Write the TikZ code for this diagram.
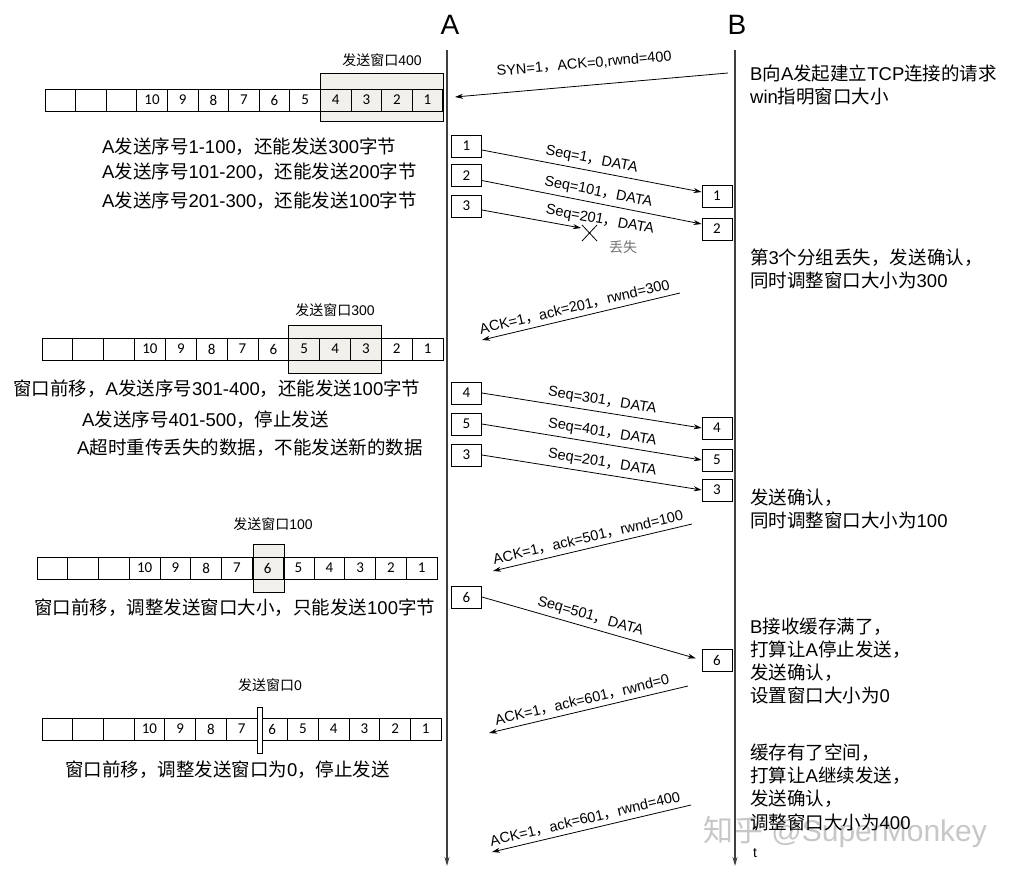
\documentclass[tikz,border=0pt]{standalone}
\usepackage{fontspec}
\setmainfont{Liberation Sans}
\newfontfamily\cjkfont{Noto Sans CJK SC}
\newfontfamily\cellfont{Carlito}
\usetikzlibrary{arrows.meta}
\definecolor{winfill}{RGB}{242,240,235}

% han characters and full width signs switch to the CJK font
\XeTeXinterchartokenstate=1
\newXeTeXintercharclass\hanclass
\newcount\hcnt
\hcnt="4E00 \loop\XeTeXcharclass\hcnt=\hanclass \ifnum\hcnt<"9FFF \advance\hcnt by 1 \repeat
\hcnt="3000 \loop\XeTeXcharclass\hcnt=\hanclass \ifnum\hcnt<"303F \advance\hcnt by 1 \repeat
\hcnt="FF00 \loop\XeTeXcharclass\hcnt=\hanclass \ifnum\hcnt<"FFEF \advance\hcnt by 1 \repeat
\XeTeXinterchartoks 0 \hanclass = {\begingroup\cjkfont}
\XeTeXinterchartoks 4095 \hanclass = {\begingroup\cjkfont}
\XeTeXinterchartoks \hanclass 0 = {\endgroup}
\XeTeXinterchartoks \hanclass 4095 = {\endgroup}

\tikzset{
  cell/.style={draw, line width=0.8pt, minimum height=22pt, inner sep=0pt, font=\cellfont\fontsize{15}{15}\selectfont},
  win/.style={draw, line width=0.8pt, fill=winfill},
  winlabel/.style={inner sep=0pt, font=\fontsize{14}{14}\selectfont},
  pkt/.style={draw, line width=0.8pt, minimum width=30pt, minimum height=22pt, inner sep=0pt, font=\cellfont\fontsize{15}{15}\selectfont},
  msg/.style={line width=0.8pt, -{Stealth[length=8pt,width=5pt]}},
  back/.style={line width=0.8pt, {Stealth[length=8pt,width=5pt]}-},
  life/.style={line width=1.3pt, black!75, -{Stealth[length=9pt,width=5pt]}},
  note/.style={inner sep=0pt, anchor=west, align=left, font=\fontsize{18.5}{23.3}\selectfont},
  tag/.style={inner sep=0pt, sloped, above=4pt, font=\fontsize{14.5}{14.5}\selectfont},
}

\begin{document}
\begin{tikzpicture}[x=1pt,y=-1pt]
  \useasboundingbox (0,0) rectangle (1014,880);

  % watermark
  \node[text=black!22, font=\fontsize{30}{30}\selectfont] (wm) at (845,832) {知乎 @SuperMonkey};

  % the two hosts and their time lines
  \node[font=\fontsize{28}{28}\selectfont] (A) at (450,25) {A};
  \node[font=\fontsize{28}{28}\selectfont] (B) at (737,25) {B};
  \coordinate (Atop) at (447,50); \coordinate (Abot) at (447,866);
  \coordinate (Btop) at (735,50); \coordinate (Bbot) at (735,866);
  \draw[life] (Atop) -- (Abot);
  \draw[life] (Btop) -- (Bbot);
  \node[font=\fontsize{14}{14}\selectfont] (t) at (755,853) {t};

  % send windows (drawn under the cells)
  \draw[win] (320,73) rectangle (443,121);
  \draw[win] (288,325) rectangle (381,373);
  \draw[win] (253,544) rectangle (284,592);

  \foreach \rx/\ry/\rw [count=\r] in {45/89/30.6, 42/338/30.85, 37/557/30.77, 42/718/30.7}{% one row of
    \foreach \k in {0,...,12}{% byte cells per state
      \pgfmathtruncatemacro\lbl{13-\k}
      \node[cell, minimum width=\rw pt] (c\r-\k) at ({\rx+(\k+0.5)*\rw},{\ry+11}) {\ifnum\k>2 \lbl\fi};
    }
  }
  \draw[line width=0.8pt, fill=white] (257,707) rectangle (262,753);% zero window

  \node[winlabel] (wl1) at (382,60) {发送窗口400};
  \node[winlabel] (wl2) at (335,310) {发送窗口300};
  \node[winlabel] (wl3) at (273,524) {发送窗口100};
  \node[winlabel] (wl4) at (270,685) {发送窗口0};

  % notes on the A side
  \node[note] (n1) at (102,147) {A发送序号1-100，还能发送300字节};
  \node[note] (n2) at (102,172) {A发送序号101-200，还能发送200字节};
  \node[note] (n3) at (102,201) {A发送序号201-300，还能发送100字节};
  \node[note] (n4) at (13,389) {窗口前移，A发送序号301-400，还能发送100字节};
  \node[note] (n5) at (82,420) {A发送序号401-500，停止发送};
  \node[note] (n6) at (77,448) {A超时重传丢失的数据，不能发送新的数据};
  \node[note] (n7) at (34,608) {窗口前移，调整发送窗口大小，只能发送100字节};
  \node[note] (n8) at (65,770) {窗口前移，调整发送窗口为0，停止发送};

  % notes on the B side
  \node[note] (m1) at (750,85) {B向A发起建立TCP连接的请求\\win指明窗口大小};
  \node[note] (m2) at (750,269) {第3个分组丢失，发送确认，\\同时调整窗口大小为300};
  \node[note] (m3) at (750,509) {发送确认，\\同时调整窗口大小为100};
  \node[note] (m4) at (750,661) {B接收缓存满了，\\打算让A停止发送，\\发送确认，\\设置窗口大小为0};
  \node[note] (m5) at (750,787) {缓存有了空间，\\打算让A继续发送，\\发送确认，\\调整窗口大小为400};

  % segments
  \node[pkt] (a1) at (466.5,146) {1};
  \node[pkt] (a2) at (466.5,175.5) {2};
  \node[pkt] (a3) at (466.5,206) {3};
  \node[pkt] (a4) at (466.5,393) {4};
  \node[pkt] (a5) at (466.5,424) {5};
  \node[pkt] (a3r) at (466.5,455) {3};
  \node[pkt] (a6) at (466.5,597) {6};
  \node[pkt] (b1) at (717,196) {1};
  \node[pkt] (b2) at (717,229) {2};
  \node[pkt] (b4) at (717,428) {4};
  \node[pkt] (b5) at (717,460) {5};
  \node[pkt] (b3) at (717,490) {3};
  \node[pkt] (b6) at (717,660) {6};

  \coordinate (syna) at (455,97);  \coordinate (synb) at (728,73);
  \coordinate (lost) at (581,228);
  \coordinate (k1a) at (482,340);  \coordinate (k1b) at (680,293);
  \coordinate (k2a) at (493,571);  \coordinate (k2b) at (692,524);
  \coordinate (k3a) at (489,733);  \coordinate (k3b) at (688,686);
  \coordinate (k4a) at (492,852);  \coordinate (k4b) at (691,805);

  \draw[back] (syna) -- node[tag, above=11pt, pos=.48] {SYN=1，ACK=0,rwnd=400} (synb);
  \draw[msg] ([yshift=-4pt]a1.east) -- node[tag, pos=.49] {Seq=1，DATA} ([yshift=4pt]b1.west);
  \draw[msg] ([yshift=-5pt]a2.east) -- node[tag, pos=.52] {Seq=101，DATA} ([yshift=5pt]b2.west);
  \draw[msg] ([yshift=-4pt]a3.east) -- node[tag, pos=1.17] {Seq=201，DATA} (lost);
  \draw[line width=0.8pt] (582,225) -- (597,241) (582,241) -- (597,225);% lost segment
  \node[text=black!55, font=\fontsize{14}{14}\selectfont] (lostlbl) at (623,247) {丢失};
  \draw[back] (k1a) -- node[tag, pos=.48] {ACK=1，ack=201，rwnd=300} (k1b);
  \draw[msg] (a4.east) -- node[tag, pos=.54] {Seq=301，DATA} (b4.west);
  \draw[msg] (a5.east) -- node[tag, pos=.54] {Seq=401，DATA} (b5.west);
  \draw[msg] (a3r.east) -- node[tag, pos=.54] {Seq=201，DATA} (b3.west);
  \draw[back] (k2a) -- node[tag, pos=.49] {ACK=1，ack=501，rwnd=100} (k2b);
  \draw[msg, shorten >=6pt] (a6.east) -- node[tag, pos=.48] {Seq=501，DATA} (b6.west);
  \draw[back] (k3a) -- node[tag, pos=.48] {ACK=1，ack=601，rwnd=0} (k3b);
  \draw[back] (k4a) -- node[tag, pos=.48] {ACK=1，ack=601，rwnd=400} (k4b);

\end{tikzpicture}
\end{document}
